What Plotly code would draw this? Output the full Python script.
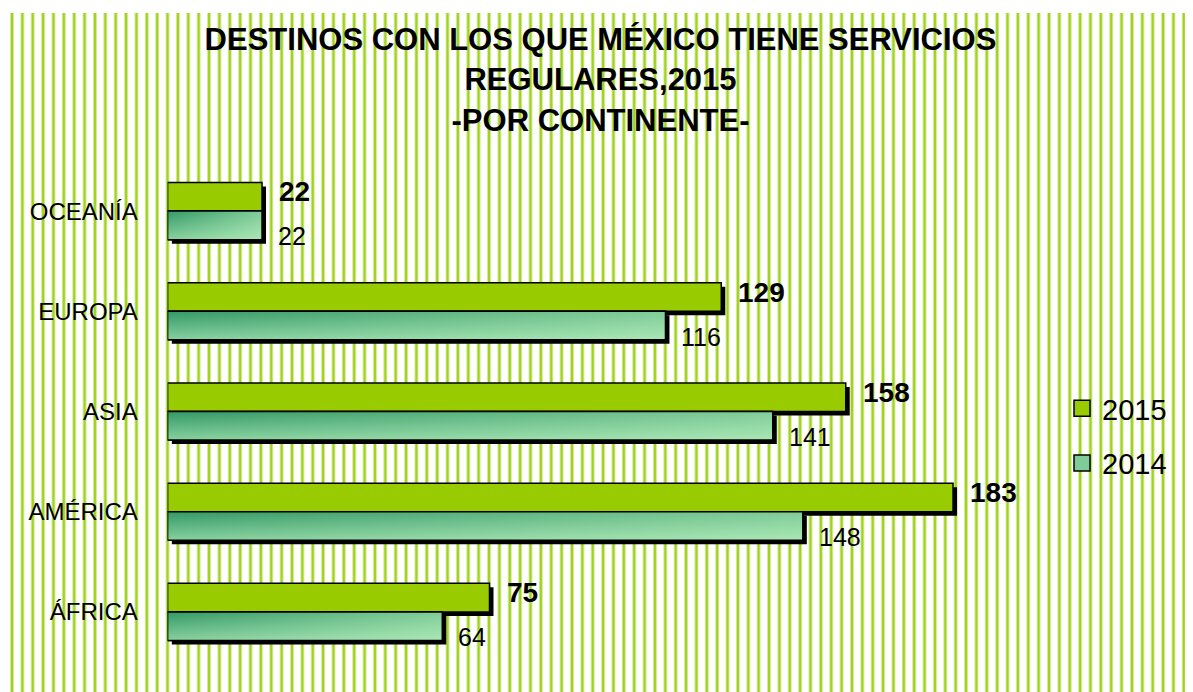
import plotly.graph_objects as go

# data
continents = ["ÁFRICA", "AMÉRICA", "ASIA", "EUROPA", "OCEANÍA"]
dest_2015 = [75, 183, 158, 129, 22]
dest_2014 = [64, 148, 141, 116, 22]
years = ["2015", "2014"]

# page is 1193x692, the html body adds an 8px margin
W, H = 1193, 692
OFF = 8
FW, FH = W - OFF, H - OFF
pos = list(range(len(continents)))
bar_w = 0.285

# plot area in page pixels
x_left, x_right = 167.6, 1026
y_top, y_bottom = 161, 662
shadow = 4


def px_x(v):
    return (v - OFF) / FW


def px_y(v):
    return 1 - (v - OFF) / FH


fig = go.Figure()

# black drop shadows, on a subplot shifted a few pixels right/down
for vals, off in [(dest_2015, 0), (dest_2014, -bar_w)]:
    fig.add_trace(go.Bar(
        y=pos, x=vals, orientation="h", width=bar_w, offset=off,
        marker=dict(color="black", line=dict(width=0)),
        xaxis="x", yaxis="y", showlegend=False, hoverinfo="skip"))

# main bars
fig.add_trace(go.Bar(
    name=years[0], y=pos, x=dest_2015, orientation="h", width=bar_w, offset=0,
    marker=dict(color="#99cc00", line=dict(color="black", width=1.5)),
    xaxis="x2", yaxis="y2", showlegend=False))
fig.add_trace(go.Bar(
    name=years[1], y=pos, x=dest_2014, orientation="h", width=bar_w, offset=-bar_w,
    marker=dict(color="#80cc99", line=dict(color="black", width=1.5)),
    xaxis="x2", yaxis="y2", showlegend=False))

# gradient fill for the 2014 bars (horizontal base + vertical light overlay)
for p, v in zip(pos, dest_2014):
    xs = [0, v, v, 0, 0]
    ys = [p - bar_w, p - bar_w, p, p, p - bar_w]
    fig.add_trace(go.Scatter(
        x=xs, y=ys, fill="toself", mode="lines", line=dict(width=0),
        fillgradient=dict(type="horizontal",
                          colorscale=[[0, "#339966"], [1, "#80cc99"]]),
        xaxis="x2", yaxis="y2", showlegend=False, hoverinfo="skip"))
    fig.add_trace(go.Scatter(
        x=xs, y=ys, fill="toself", mode="lines",
        line=dict(color="black", width=1.5),
        fillgradient=dict(type="vertical",
                          colorscale=[[0, "rgba(204,255,204,0.55)"],
                                      [1, "rgba(204,255,204,0)"]]),
        xaxis="x2", yaxis="y2", showlegend=False, hoverinfo="skip"))

# legend entries with bigger square swatches
for name, col, rank in [(years[0], "#99cc00", 1), (years[1], "#80cc99", 2)]:
    fig.add_trace(go.Scatter(
        x=[None], y=[None], mode="markers", name=name, legendrank=rank,
        legendgroup=name,
        marker=dict(symbol="square", size=16, color=col,
                    line=dict(color="black", width=1.5)),
        xaxis="x2", yaxis="y2"))

# value labels
for p, v in zip(pos, dest_2015):
    fig.add_annotation(x=v, y=p + bar_w / 2, xref="x2", yref="y2", text=str(v),
                       showarrow=False, xanchor="left", xshift=15, yshift=5,
                       font=dict(size=28, color="black", weight="bold"))
for p, v in zip(pos, dest_2014):
    fig.add_annotation(x=v, y=p - bar_w / 2, xref="x2", yref="y2", text=str(v),
                       showarrow=False, xanchor="left", xshift=14, yshift=-11,
                       font=dict(size=25, color="black"))

# striped background
stripes = []
for k in range(114):
    sx = px_x(12 + 10.37 * k)
    stripes.append(dict(type="line", xref="paper", yref="paper", x0=sx, x1=sx,
                        y0=0, y1=px_y(13), layer="below",
                        line=dict(color="#d3eb9c", width=4)))
    stripes.append(dict(type="line", xref="paper", yref="paper", x0=sx, x1=sx,
                        y0=0, y1=px_y(13), layer="below",
                        line=dict(color="#a2d21e", width=2)))

fig.update_layout(
    width=FW, height=FH, autosize=False,
    margin=dict(l=0, r=0, t=0, b=0),
    paper_bgcolor="white", plot_bgcolor="rgba(0,0,0,0)",
    barmode="overlay",
    font=dict(family="Liberation Sans, Arial", color="black"),
    title=dict(text="DESTINOS CON LOS QUE MÉXICO TIENE SERVICIOS<br>REGULARES,2015<br>-POR CONTINENTE-",
               x=0.5, xanchor="center", y=px_y(50), yanchor="top", yref="container",
               font=dict(size=31, weight="bold", color="black")),
    shapes=stripes,
    xaxis=dict(domain=[px_x(x_left + shadow), px_x(x_right + shadow)], range=[0, 200],
               visible=False, anchor="y"),
    yaxis=dict(domain=[px_y(y_bottom + shadow), px_y(y_top + shadow)], range=[-0.5, 4.5],
               visible=False, anchor="x"),
    xaxis2=dict(domain=[px_x(x_left), px_x(x_right)], range=[0, 200],
                visible=False, anchor="y2"),
    yaxis2=dict(domain=[px_y(y_bottom), px_y(y_top)], range=[-0.5, 4.5], anchor="x2",
                tickvals=pos, ticktext=continents, showgrid=False, zeroline=False,
                showline=False, ticks="outside", ticklen=24,
                tickcolor="rgba(0,0,0,0)", tickfont=dict(size=24, color="black")),
    legend=dict(x=px_x(1062), y=px_y(383), xanchor="left", yanchor="top",
                bgcolor="rgba(0,0,0,0)", font=dict(size=29, color="black"),
                tracegroupgap=14),
)

fig.write_html("out.html")
